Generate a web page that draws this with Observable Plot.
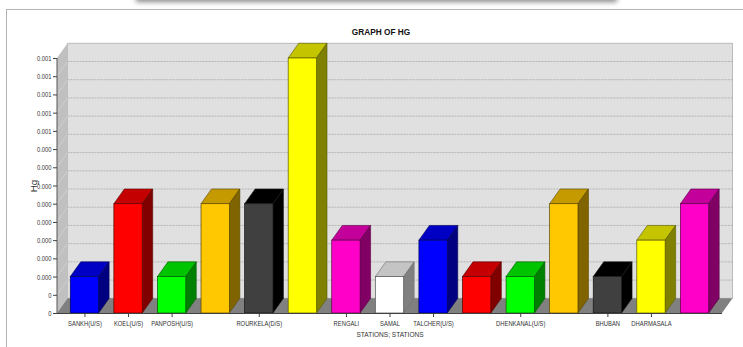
<!DOCTYPE html>
<html>
<head>
<meta charset="utf-8">
<script src="https://cdn.jsdelivr.net/npm/d3@7"></script>
<script src="https://cdn.jsdelivr.net/npm/@observablehq/plot@0.6"></script>
<style>
  html, body { margin: 0; padding: 0; background: #fff; overflow: hidden; }
  #page { position: relative; width: 743px; height: 347px; overflow: hidden; }
  #panel { position: absolute; left: 6px; top: 9px; width: 800px; height: 400px;
           border-left: 1px solid #b4b4b4; border-top: 1px solid #b4b4b4; }
  #banner { position: absolute; left: 138px; top: -20px; width: 477px; height: 20px;
            background: #808080; box-shadow: 0 0 5px 2px #8a8a8a; }
  #chart { position: absolute; left: 0; top: 0; }
  #chart svg { font-family: "Liberation Sans", sans-serif; }
</style>
</head>
<body>
<div id="page">
  <div id="panel"></div>
  <div id="banner"></div>
  <div id="chart"></div>
</div>
<script>
// Mercury readings per monitoring station; some category labels are left blank on the axis.
const stationLabels = ["SANKH(U/S)", "KOEL(U/S)", "PANPOSH(U/S)", "", "ROURKELA(D/S)", "", "RENGALI", "SAMAL",
                       "TALCHER(U/S)", "", "DHENKANAL(U/S)", "", "BHUBAN", "DHARMASALA", ""];
const hgValues = [0.0001, 0.0003, 0.0001, 0.0003, 0.0003, 0.0007, 0.0002, 0.0001,
                  0.0002, 0.0001, 0.0001, 0.0003, 0.0001, 0.0002, 0.0003];
const barColors = ["#0000ff", "#ff0000", "#00ff00", "#ffc800", "#404040", "#ffff00", "#ff00c8", "#ffffff",
                   "#0000ff", "#ff0000", "#00ff00", "#ffc800", "#404040", "#ffff00", "#ff00c8"];
const yTicks = [0, 0.00005, 0.0001, 0.00015, 0.0002, 0.00025, 0.0003, 0.00035,
                0.0004, 0.00045, 0.0005, 0.00055, 0.0006, 0.00065, 0.0007];
const yTickLabels = ["0", "0", "0.000", "0.000", "0.000", "0.000", "0.000", "0.000",
                     "0.000", "0.000", "0.001", "0.001", "0.001", "0.001", "0.001"];
const yTitle = "Hg";
const xTitle = "STATIONS; STATIONS";
const chartTitle = "GRAPH OF HG";

// Pixel depth of the extruded 3D look.
const depthX = 10.5, depthY = 14.7;

const rows = hgValues.map((value, i) => ({i, value, color: barColors[i]}));
const labelled = rows.map(d => d.i).filter(i => stationLabels[i] !== "");

const svgNS = "http://www.w3.org/2000/svg";
function polygon(points, fill, stroke) {
  const p = document.createElementNS(svgNS, "polygon");
  p.setAttribute("points", points.map(d => d.join(",")).join(" "));
  p.setAttribute("fill", fill);
  if (stroke) { p.setAttribute("stroke", stroke); p.setAttribute("stroke-width", 0.6); }
  return p;
}
function line(d, stroke, dash) {
  const p = document.createElementNS(svgNS, "path");
  p.setAttribute("d", d);
  p.setAttribute("stroke", stroke);
  p.setAttribute("fill", "none");
  if (dash) p.setAttribute("stroke-dasharray", dash);
  return p;
}
const shade = (c, k) => { const o = d3.rgb(c); return d3.rgb(o.r * k, o.g * k, o.b * k).formatHex(); };

// The chart's box: back wall, left wall and floor, positioned from the scales.
function room(index, {y}, values, {width, marginLeft, marginRight}) {
  const g = document.createElementNS(svgNS, "g");
  const l = marginLeft, r = width - marginRight, t = y(yTicks[yTicks.length - 1]), b = y(0);
  g.appendChild(polygon([[l + depthX, t - depthY], [r + depthX, t - depthY], [r + depthX, b - depthY], [l + depthX, b - depthY]], "#e0e0e0", "#989898"));
  g.appendChild(polygon([[l, t], [l + depthX, t - depthY], [l + depthX, b - depthY], [l, b]], "#c0c0c0"));
  g.appendChild(polygon([[l, b], [l + depthX, b - depthY], [r + depthX, b - depthY], [r, b]], "#808080"));
  for (const tick of yTicks.slice(1, -1)) {
    const yy = y(tick);
    g.appendChild(line(`M${l + depthX},${yy - depthY}H${r + depthX}`, "#b4b4b4", "2,1"));
    g.appendChild(line(`M${l},${yy}L${l + depthX},${yy - depthY}`, "#d0d0d0"));
  }
  g.appendChild(line(`M${l},${t}V${b}`, "#555555"));
  return g;
}

// Adds the top and right faces behind each bar's front rectangle.
function extrude(index, scales, channels, dimensions, context, next) {
  const g = next(index, scales, channels, dimensions, context);
  const first = g.firstChild;
  const w = scales.x.bandwidth();
  for (const i of index) {
    const d = rows[i];
    const x0 = scales.x(d.i), x1 = x0 + w, y0 = scales.y(d.value), y1 = scales.y(0);
    const dark = d.color === "#404040";
    const white = d.color === "#ffffff";
    const edge = shade(d.color, 0.35);
    const topFill = dark ? "#000000" : shade(d.color, 0.77);
    const sideFill = dark ? "#000000" : shade(d.color, 0.5);
    g.insertBefore(polygon([[x0, y0], [x0 + depthX, y0 - depthY], [x1 + depthX, y0 - depthY], [x1, y0]], topFill, white ? "#707070" : edge), first);
    g.insertBefore(polygon([[x1, y0], [x1 + depthX, y0 - depthY], [x1 + depthX, y1 - depthY], [x1, y1]], sideFill, white ? "#707070" : edge), first);
  }
  return g;
}

const plot = Plot.plot({
  width: 743,
  height: 347,
  marginLeft: 57,
  marginRight: 21,
  marginTop: 58,
  marginBottom: 34,
  style: {background: "transparent", fontSize: "8px", color: "#333"},
  x: {type: "band", domain: d3.range(rows.length), paddingInner: 0.35, paddingOuter: 0.305, align: 0.5, round: false},
  y: {domain: [0, 0.0007]},
  marks: [
    room,
    Plot.barY(rows, {
      x: "i", y: "value", fill: "color", inset: 0,
      stroke: d => d.color === "#ffffff" ? "#505050" : shade(d.color, 0.35), strokeWidth: 0.7,
      render: extrude
    }),
    Plot.axisY({
      ticks: yTicks,
      tickFormat: (d, i) => yTickLabels[i],
      tickSize: 4, tickPadding: 2, stroke: "#404040",
      label: yTitle, labelAnchor: "center", labelArrow: "none", labelOffset: 27
    }),
    Plot.axisX({
      ticks: labelled,
      tickFormat: i => stationLabels[i],
      tickSize: 4, tickPadding: 3, stroke: "#404040",
      label: xTitle, labelAnchor: "center", labelArrow: "none", labelOffset: 23
    }),
    Plot.ruleY([0], {stroke: "#404040"}),
    Plot.text([chartTitle], {frameAnchor: "top", dx: -9, dy: -30, fontWeight: "bold", fontSize: 9, fill: "#111"})
  ]
});

// The chart's labels are set in a condensed face: squeeze each one horizontally.
const squeeze = {[chartTitle]: 0.92, [xTitle]: 0.82, [yTitle]: 1.1};
for (const t of plot.querySelectorAll("text")) {
  const label = t.textContent;
  const base = t.getAttribute("transform") || "";
  if (label === yTitle) t.setAttribute("font-size", "9");
  t.setAttribute("transform", `${base} scale(${squeeze[label] ?? 0.73},1)`);
}
document.getElementById("chart").appendChild(plot);
</script>
</body>
</html>
